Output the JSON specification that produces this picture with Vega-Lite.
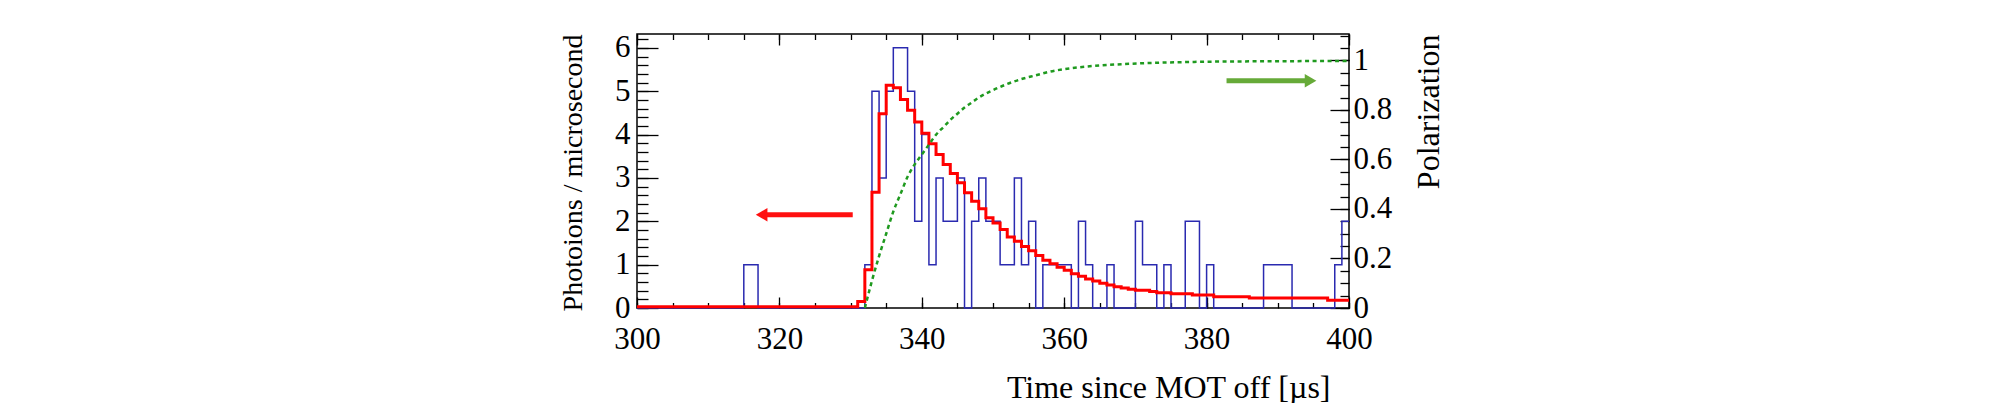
{
  "$schema": "https://vega.github.io/schema/vega-lite/v6.json",
  "width": 712,
  "height": 274,
  "padding": {"left": 559, "top": 31, "right": 0, "bottom": 0},
  "autosize": {"type": "pad"},
  "datasets": {
    "counts": [
      {"t": 300, "meas": 0, "fit": 0.03}, {"t": 301, "meas": 0, "fit": 0.03}, {"t": 302, "meas": 0, "fit": 0.03},
      {"t": 303, "meas": 0, "fit": 0.03}, {"t": 304, "meas": 0, "fit": 0.03}, {"t": 305, "meas": 0, "fit": 0.03},
      {"t": 306, "meas": 0, "fit": 0.03}, {"t": 307, "meas": 0, "fit": 0.03}, {"t": 308, "meas": 0, "fit": 0.03},
      {"t": 309, "meas": 0, "fit": 0.03}, {"t": 310, "meas": 0, "fit": 0.03}, {"t": 311, "meas": 0, "fit": 0.03},
      {"t": 312, "meas": 0, "fit": 0.03}, {"t": 313, "meas": 0, "fit": 0.03}, {"t": 314, "meas": 0, "fit": 0.03},
      {"t": 315, "meas": 1, "fit": 0.03}, {"t": 316, "meas": 1, "fit": 0.03}, {"t": 317, "meas": 0, "fit": 0.03},
      {"t": 318, "meas": 0, "fit": 0.03}, {"t": 319, "meas": 0, "fit": 0.03}, {"t": 320, "meas": 0, "fit": 0.03},
      {"t": 321, "meas": 0, "fit": 0.03}, {"t": 322, "meas": 0, "fit": 0.03}, {"t": 323, "meas": 0, "fit": 0.03},
      {"t": 324, "meas": 0, "fit": 0.03}, {"t": 325, "meas": 0, "fit": 0.03}, {"t": 326, "meas": 0, "fit": 0.03},
      {"t": 327, "meas": 0, "fit": 0.03}, {"t": 328, "meas": 0, "fit": 0.03}, {"t": 329, "meas": 0, "fit": 0.03},
      {"t": 330, "meas": 0, "fit": 0.03}, {"t": 331, "meas": 0, "fit": 0.15}, {"t": 332, "meas": 1, "fit": 0.88},
      {"t": 333, "meas": 5, "fit": 2.67}, {"t": 334, "meas": 3, "fit": 4.48}, {"t": 335, "meas": 5, "fit": 5.14},
      {"t": 336, "meas": 6, "fit": 5.08}, {"t": 337, "meas": 6, "fit": 4.81}, {"t": 338, "meas": 5, "fit": 4.56},
      {"t": 339, "meas": 2, "fit": 4.29}, {"t": 340, "meas": 4, "fit": 4.03}, {"t": 341, "meas": 1, "fit": 3.79},
      {"t": 342, "meas": 3, "fit": 3.54}, {"t": 343, "meas": 2, "fit": 3.31}, {"t": 344, "meas": 2, "fit": 3.1},
      {"t": 345, "meas": 3, "fit": 2.89}, {"t": 346, "meas": 0, "fit": 2.66}, {"t": 347, "meas": 2, "fit": 2.46},
      {"t": 348, "meas": 3, "fit": 2.29}, {"t": 349, "meas": 2, "fit": 2.08}, {"t": 350, "meas": 2, "fit": 1.96},
      {"t": 351, "meas": 1, "fit": 1.81}, {"t": 352, "meas": 1, "fit": 1.64}, {"t": 353, "meas": 3, "fit": 1.54},
      {"t": 354, "meas": 1, "fit": 1.42}, {"t": 355, "meas": 2, "fit": 1.32}, {"t": 356, "meas": 0, "fit": 1.21},
      {"t": 357, "meas": 1, "fit": 1.1}, {"t": 358, "meas": 1, "fit": 1.02}, {"t": 359, "meas": 1, "fit": 0.94},
      {"t": 360, "meas": 1, "fit": 0.87}, {"t": 361, "meas": 0, "fit": 0.79}, {"t": 362, "meas": 2, "fit": 0.73},
      {"t": 363, "meas": 1, "fit": 0.67}, {"t": 364, "meas": 0, "fit": 0.62}, {"t": 365, "meas": 0, "fit": 0.57},
      {"t": 366, "meas": 1, "fit": 0.53}, {"t": 367, "meas": 0, "fit": 0.49}, {"t": 368, "meas": 0, "fit": 0.46},
      {"t": 369, "meas": 0, "fit": 0.43}, {"t": 370, "meas": 2, "fit": 0.41}, {"t": 371, "meas": 1, "fit": 0.41},
      {"t": 372, "meas": 1, "fit": 0.38}, {"t": 373, "meas": 0, "fit": 0.35}, {"t": 374, "meas": 1, "fit": 0.35},
      {"t": 375, "meas": 0, "fit": 0.33}, {"t": 376, "meas": 0, "fit": 0.33}, {"t": 377, "meas": 2, "fit": 0.33},
      {"t": 378, "meas": 2, "fit": 0.3}, {"t": 379, "meas": 0, "fit": 0.3}, {"t": 380, "meas": 1, "fit": 0.3},
      {"t": 381, "meas": 0, "fit": 0.26}, {"t": 382, "meas": 0, "fit": 0.26}, {"t": 383, "meas": 0, "fit": 0.26},
      {"t": 384, "meas": 0, "fit": 0.26}, {"t": 385, "meas": 0, "fit": 0.26}, {"t": 386, "meas": 0, "fit": 0.23},
      {"t": 387, "meas": 0, "fit": 0.23}, {"t": 388, "meas": 1, "fit": 0.23}, {"t": 389, "meas": 1, "fit": 0.23},
      {"t": 390, "meas": 1, "fit": 0.23}, {"t": 391, "meas": 1, "fit": 0.23}, {"t": 392, "meas": 0, "fit": 0.23},
      {"t": 393, "meas": 0, "fit": 0.23}, {"t": 394, "meas": 0, "fit": 0.23}, {"t": 395, "meas": 0, "fit": 0.23},
      {"t": 396, "meas": 0, "fit": 0.23}, {"t": 397, "meas": 0, "fit": 0.18}, {"t": 398, "meas": 1, "fit": 0.18},
      {"t": 399, "meas": 2, "fit": 0.18}, {"t": 400, "meas": 2, "fit": 0.18}
    ],
    "polarization": [
      {"t": 332, "p": 0}, {"t": 333, "p": 0.11}, {"t": 334, "p": 0.21}, {"t": 335, "p": 0.3},
      {"t": 336, "p": 0.39}, {"t": 337, "p": 0.46}, {"t": 338, "p": 0.53}, {"t": 339, "p": 0.58},
      {"t": 340, "p": 0.62}, {"t": 341, "p": 0.66}, {"t": 342, "p": 0.7}, {"t": 343, "p": 0.73},
      {"t": 344, "p": 0.76}, {"t": 345, "p": 0.785}, {"t": 346, "p": 0.81}, {"t": 347, "p": 0.83},
      {"t": 348, "p": 0.85}, {"t": 350, "p": 0.88}, {"t": 352, "p": 0.905}, {"t": 354, "p": 0.925},
      {"t": 356, "p": 0.94}, {"t": 358, "p": 0.955}, {"t": 360, "p": 0.965}, {"t": 362, "p": 0.972},
      {"t": 365, "p": 0.98}, {"t": 368, "p": 0.985}, {"t": 372, "p": 0.99}, {"t": 376, "p": 0.993},
      {"t": 380, "p": 0.995}, {"t": 390, "p": 0.997}, {"t": 400, "p": 0.998}
    ],
    "leftArrow": [{"t": 317.5, "t2": 330.3, "v": 2.15}],
    "rightArrow": [{"t": 394.6, "t2": 382.8, "v": 0.918}]
  },
  "config": {
    "font": "Liberation Serif",
    "view": {"stroke": "#000000", "strokeWidth": 1.5},
    "axis": {
      "domain": false,
      "grid": false,
      "tickColor": "#000000",
      "tickWidth": 1.3,
      "labelColor": "#000000",
      "labelFont": "Liberation Serif",
      "labelFontSize": 31,
      "labelOverlap": false,
      "labelFlush": false,
      "titleColor": "#000000",
      "titleFont": "Liberation Serif",
      "titleFontWeight": "normal"
    }
  },
  "layer": [
    {
      "data": {"name": "counts"},
      "layer": [
        {
          "mark": {"type": "line", "interpolate": "step-after", "color": "#2a2ab0", "strokeWidth": 1.5},
          "encoding": {
            "x": {
              "field": "t",
              "type": "quantitative",
              "scale": {"domain": [300, 400], "nice": false, "zero": false},
              "axis": {
                "orient": "bottom",
                "values": [300, 320, 340, 360, 380, 400],
                "format": "d",
                "tickSize": 11,
                "offset": -11,
                "labelPadding": 16,
                "title": "Time since MOT off [µs]",
                "titleFontSize": 32,
                "titleAnchor": "end",
                "titleAlign": "right",
                "titleX": 693,
                "titlePadding": 18
              }
            },
            "y": {
              "field": "meas",
              "type": "quantitative",
              "scale": {"domain": [0, 6.32], "nice": false},
              "axis": {
                "orient": "left",
                "values": [0, 1, 2, 3, 4, 5, 6],
                "format": "d",
                "tickSize": 21,
                "offset": -21,
                "labelPadding": 7,
                "title": "Photoions / microsecond",
                "titleFontSize": 28,
                "titleAnchor": "end",
                "titlePadding": 27
              }
            }
          }
        },
        {
          "mark": {"type": "line", "interpolate": "step-after", "color": "#ff0000", "strokeWidth": 3},
          "encoding": {
            "x": {
              "field": "t",
              "type": "quantitative",
              "scale": {"domain": [300, 400], "nice": false, "zero": false},
              "axis": {
                "orient": "bottom",
                "values": [300, 305, 310, 315, 320, 325, 330, 335, 340, 345, 350, 355, 360, 365, 370, 375, 380, 385, 390, 395, 400],
                "tickSize": 5.5,
                "offset": -5.5,
                "labels": false,
                "title": null
              }
            },
            "y": {
              "field": "fit",
              "type": "quantitative",
              "scale": {"domain": [0, 6.32], "nice": false},
              "axis": {
                "orient": "left",
                "values": [0, 0.2, 0.4, 0.6, 0.8, 1, 1.2, 1.4, 1.6, 1.8, 2, 2.2, 2.4, 2.6, 2.8, 3, 3.2, 3.4, 3.6, 3.8, 4, 4.2, 4.4, 4.6, 4.8, 5, 5.2, 5.4, 5.6, 5.8, 6, 6.2],
                "tickSize": 11,
                "offset": -11,
                "labels": false,
                "title": null
              }
            }
          }
        },
        {
          "data": {"name": "leftArrow"},
          "mark": {"type": "rule", "color": "#ff1010", "strokeWidth": 5},
          "encoding": {
            "x": {"field": "t", "type": "quantitative", "scale": {"domain": [300, 400], "nice": false, "zero": false}, "axis": null},
            "x2": {"field": "t2"},
            "y": {"field": "v", "type": "quantitative", "scale": {"domain": [0, 6.32], "nice": false}, "axis": null}
          }
        },
        {
          "data": {"name": "leftArrow"},
          "mark": {"type": "point", "shape": "triangle-left", "filled": true, "color": "#ff1010", "size": 180, "opacity": 1},
          "encoding": {
            "x": {"field": "t", "type": "quantitative", "scale": {"domain": [300, 400], "nice": false, "zero": false}, "axis": null},
            "y": {"field": "v", "type": "quantitative", "scale": {"domain": [0, 6.32], "nice": false}, "axis": null}
          }
        }
      ],
      "resolve": {"axis": {"x": "independent", "y": "independent"}}
    },
    {
      "layer": [
        {
          "data": {"name": "polarization"},
          "mark": {"type": "line", "interpolate": "monotone", "color": "#1f9a1f", "strokeWidth": 2.5, "strokeDash": [4, 3.5]},
          "encoding": {
            "x": {
              "field": "t",
              "type": "quantitative",
              "scale": {"domain": [300, 400], "nice": false, "zero": false},
              "axis": {
                "orient": "top",
                "values": [300, 320, 340, 360, 380, 400],
                "tickSize": 11,
                "offset": -11,
                "labels": false,
                "title": null
              }
            },
            "y": {
              "field": "p",
              "type": "quantitative",
              "scale": {"domain": [0, 1.107], "nice": false},
              "axis": {
                "orient": "right",
                "values": [0, 0.2, 0.4, 0.6, 0.8, 1],
                "tickSize": 19,
                "offset": -19,
                "labels": false,
                "title": null
              }
            }
          }
        },
        {
          "data": {"name": "rightArrow"},
          "mark": {"type": "rule", "color": "#66aa38", "strokeWidth": 5},
          "encoding": {
            "x": {
              "field": "t",
              "type": "quantitative",
              "scale": {"domain": [300, 400], "nice": false, "zero": false},
              "axis": {
                "orient": "top",
                "values": [300, 305, 310, 315, 320, 325, 330, 335, 340, 345, 350, 355, 360, 365, 370, 375, 380, 385, 390, 395, 400],
                "tickSize": 5.5,
                "offset": -5.5,
                "labels": false,
                "title": null
              }
            },
            "x2": {"field": "t2"},
            "y": {
              "field": "v",
              "type": "quantitative",
              "scale": {"domain": [0, 1.107], "nice": false},
              "axis": {
                "orient": "right",
                "values": [0, 0.05, 0.1, 0.15, 0.2, 0.25, 0.3, 0.35, 0.4, 0.45, 0.5, 0.55, 0.6, 0.65, 0.7, 0.75, 0.8, 0.85, 0.9, 0.95, 1, 1.05, 1.1],
                "tickSize": 9,
                "offset": -9,
                "labels": false,
                "title": null
              }
            }
          }
        },
        {
          "data": {"name": "rightArrow"},
          "mark": {"type": "point", "shape": "triangle-right", "filled": true, "color": "#66aa38", "size": 180, "opacity": 1},
          "encoding": {
            "x": {"field": "t", "type": "quantitative", "scale": {"domain": [300, 400], "nice": false, "zero": false}, "axis": null},
            "y": {
              "field": "v",
              "type": "quantitative",
              "scale": {"domain": [0, 1.107], "nice": false},
              "axis": {
                "orient": "right",
                "values": [0, 0.2, 0.4, 0.6, 0.8, 1],
                "format": "~g",
                "ticks": false,
                "labelPadding": 4,
                "title": "Polarization",
                "titleFontSize": 32,
                "titleAngle": 270,
                "titleBaseline": "top",
                "titleAnchor": "end",
                "titlePadding": 22
              }
            }
          }
        }
      ],
      "resolve": {"axis": {"x": "independent", "y": "independent"}}
    }
  ],
  "resolve": {"scale": {"y": "independent"}, "axis": {"x": "independent", "y": "independent"}}
}
